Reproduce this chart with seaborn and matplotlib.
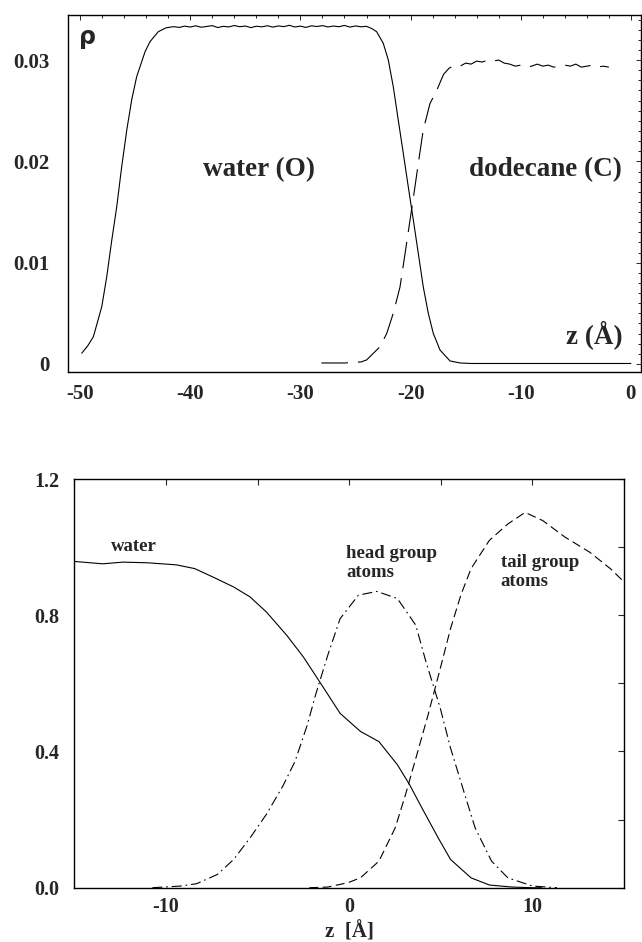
import matplotlib
matplotlib.use("Agg")
import matplotlib.pyplot as plt
import numpy as np
import seaborn as sns
from matplotlib.ticker import MultipleLocator, FixedLocator, FixedFormatter

# ---- top panel: density profiles (water O / dodecane C) ----
water_z = [-49.85, -49.3, -48.79, -48.03, -47.58, -47.12, -46.67, -46.22, -45.76,
           -45.31, -44.86, -44.1, -43.65, -42.9, -42.2,
           -41.5, -41.0, -40.5, -40.0, -39.5, -39.0, -38.5, -38.0, -37.5, -37.0,
           -36.5, -36.0, -35.5, -35.0, -34.5, -34.0, -33.5, -33.0, -32.5, -32.0,
           -31.5, -31.0, -30.5, -30.0, -29.5, -29.0, -28.5, -28.0, -27.5, -27.0,
           -26.5, -26.0, -25.5, -25.0, -24.5, -24.0,
           -23.5, -23.08, -22.48, -22.02, -21.57, -21.12, -20.66, -20.21, -19.75,
           -19.3, -18.85, -18.39, -17.94, -17.33, -16.42, -15.5, -14.5, 0.0]
water_rho = [0.00106, 0.0018, 0.0027, 0.00566, 0.0086, 0.01224, 0.01553, 0.01948, 0.0231,
             0.0261, 0.02836, 0.03083, 0.03182, 0.0328, 0.03318,
             0.03330, 0.03322, 0.03335, 0.03326, 0.03338, 0.03324, 0.03332, 0.03340, 0.03321, 0.03333,
             0.03327, 0.03341, 0.03329, 0.03336, 0.03320, 0.03334, 0.03328, 0.03339, 0.03325, 0.03337,
             0.03330, 0.03343, 0.03326, 0.03335, 0.03322, 0.03338, 0.03331, 0.03340, 0.03327, 0.03336,
             0.03329, 0.03342, 0.03325, 0.03337, 0.03328, 0.03333,
             0.0331, 0.0328, 0.03166, 0.0300, 0.02737, 0.02409, 0.0208, 0.0175, 0.01422,
             0.01093, 0.00763, 0.005, 0.00303, 0.00138, 0.0003, 0.0001, 0.00005, 0.00005]

dodec_z = [-28.1, -26.0, -24.5, -23.99, -22.78, -22.17, -21.57, -20.96, -20.5, -20.05,
           -19.6, -19.3, -18.85, -18.24, -17.63, -17.0,
           -16.5, -16.0, -15.5, -15.0, -14.5, -14.0, -13.5, -13.0, -12.5, -12.0,
           -11.5, -11.0, -10.5, -10.0, -9.5, -9.0, -8.5, -8.0, -7.5, -7.0,
           -6.5, -6.0, -5.5, -5.0, -4.5, -4.0, -3.5, -3.0, -2.5, -2.0]
dodec_rho = [0.0001, 0.0001, 0.0002, 0.0004, 0.0017, 0.003, 0.005, 0.0076, 0.0109, 0.0142,
             0.0175, 0.0198, 0.0231, 0.0257, 0.0270, 0.0286,
             0.0292, 0.0295, 0.0294, 0.0297, 0.0296, 0.0299, 0.0298, 0.0300, 0.0299, 0.0300,
             0.0297, 0.0296, 0.0294, 0.0295, 0.0293, 0.0294, 0.0296, 0.0294, 0.0295, 0.0293,
             0.0294, 0.0295, 0.0294, 0.0296, 0.0293, 0.0294, 0.0295, 0.0293, 0.0294, 0.0293]

top_xticks = [-50, -40, -30, -20, -10, 0]
top_yticks = [0, 0.01, 0.02, 0.03]
top_ylabels = ["0", "0.01", "0.02", "0.03"]

# ---- bottom panel: normalised profiles across the interface ----
wat_z = [-15.0, -13.46, -12.35, -11.0, -9.44, -8.44, -7.43, -6.31, -5.42, -4.53, -3.41,
         -2.51, -1.62, -0.5, 0.61, 1.62, 2.63, 3.3, 3.97, 4.86, 5.53, 6.65, 7.65, 8.88,
         10.0, 10.5]
wat_val = [0.958, 0.951, 0.956, 0.954, 0.948, 0.937, 0.912, 0.883, 0.854, 0.81, 0.741,
           0.678, 0.605, 0.512, 0.459, 0.429, 0.361, 0.302, 0.234, 0.146, 0.083, 0.029,
           0.008, 0.002, 0.0, 0.0]

head_z = [-10.75, -9.2, -8.32, -7.2, -6.31, -5.42, -4.53, -3.63, -2.96, -2.29, -1.84, -1.17,
          -0.5, 0.5, 1.51, 2.63, 3.63, 4.19, 4.97, 5.53, 6.31, 6.87, 7.77, 8.66, 10.0, 11.34]
head_val = [0.0, 0.005, 0.012, 0.039, 0.083, 0.146, 0.215, 0.298, 0.371, 0.478, 0.566, 0.683,
            0.79, 0.859, 0.87, 0.849, 0.771, 0.663, 0.527, 0.41, 0.273, 0.176, 0.078, 0.029,
            0.005, 0.0]

tail_z = [-2.18, -1.17, -0.06, 0.61, 1.62, 2.51, 3.07, 3.74, 4.3, 4.97, 5.53, 6.09, 6.65,
          7.65, 8.66, 9.6, 10.56, 11.79, 13.13, 14.25, 15.0]
tail_val = [0.0, 0.002, 0.015, 0.029, 0.078, 0.176, 0.273, 0.40, 0.507, 0.644, 0.761, 0.859,
            0.937, 1.02, 1.068, 1.102, 1.078, 1.029, 0.985, 0.937, 0.898]

bot_xticks = [-15, -10, -5, 0, 5, 10, 15]
bot_xlabels = ["", "-10", "", "0", "", "10", ""]
bot_yticks = [0.0, 0.2, 0.4, 0.6, 0.8, 1.0, 1.2]
bot_ylabels = ["0.0", "", "0.4", "", "0.8", "", "1.2"]

sns.set_style("white")
plt.rcParams["font.family"] = ["Liberation Serif", "DejaVu Serif"]
plt.rcParams["font.weight"] = "bold"
plt.rcParams["axes.unicode_minus"] = False

fig = plt.figure(figsize=(6.42, 9.42), dpi=100)
ax1 = fig.add_axes([0.1055, 0.6051, 0.893, 0.379])
ax2 = fig.add_axes([0.116, 0.0576, 0.856, 0.4339])

# top
sns.lineplot(x=water_z, y=water_rho, ax=ax1, color="black", linewidth=0.8, errorbar=None)
sns.lineplot(x=dodec_z, y=dodec_rho, ax=ax1, color="black", linewidth=0.8, errorbar=None,
             linestyle=(0, (24, 9)))
ax1.set_xlim(-51.12, 0.92)
ax1.set_ylim(-0.00079, 0.03445)
ax1.set_xticks(top_xticks)
ax1.set_yticks(top_yticks)
ax1.set_yticklabels(top_ylabels)
ax1.xaxis.set_minor_locator(MultipleLocator(2))
ax1.yaxis.set_minor_locator(MultipleLocator(0.001))
ax1.tick_params(which="both", direction="in", top=True, right=True, width=0.7,
                labelsize=15)
ax1.tick_params(which="major", length=3.5)
ax1.tick_params(which="minor", length=2.5)
ax1.tick_params(axis="y", pad=13)
ax1.tick_params(axis="x", pad=9)
ax1.text(-33.8, 0.0192, "water (O)", fontsize=19.5, fontweight="bold", ha="center", va="center")
ax1.text(-7.8, 0.0192, "dodecane (C)", fontsize=19.5, fontweight="bold", ha="center", va="center")
ax1.text(-3.36, 0.00286, "z (Å)", fontsize=19.5, fontweight="bold", ha="center", va="center")
ax1.text(-49.3, 0.0323, "ρ", fontsize=17, fontweight="bold", family="DejaVu Sans",
         ha="center", va="center")

# bottom
sns.lineplot(x=wat_z, y=wat_val, ax=ax2, color="black", linewidth=0.8, errorbar=None)
sns.lineplot(x=head_z, y=head_val, ax=ax2, color="black", linewidth=0.8, errorbar=None,
             linestyle=(0, (9, 3.5, 1.5, 3.5)))
sns.lineplot(x=tail_z, y=tail_val, ax=ax2, color="black", linewidth=0.8, errorbar=None,
             linestyle=(0, (8, 4)))
ax2.set_xlim(-15, 15)
ax2.set_ylim(0, 1.2)
ax2.xaxis.set_major_locator(FixedLocator(bot_xticks))
ax2.xaxis.set_major_formatter(FixedFormatter(bot_xlabels))
ax2.yaxis.set_major_locator(FixedLocator(bot_yticks))
ax2.yaxis.set_major_formatter(FixedFormatter(bot_ylabels))
ax2.tick_params(which="both", direction="in", top=True, right=True, width=0.8,
                length=4.5, labelsize=14.5)
ax2.tick_params(axis="y", pad=11)
ax2.tick_params(axis="x", pad=7)
ax2.set_xlabel("z  [Å]", fontsize=15, fontweight="bold", labelpad=3)
ax2.text(-11.78, 1.003, "water", fontsize=13.5, fontweight="bold", ha="center", va="center")
ax2.text(-0.17, 1.005, "head group\natoms", fontsize=13.5, fontweight="bold", ha="left",
         va="top", linespacing=1.15)
ax2.text(8.26, 0.98, "tail group\natoms", fontsize=13.5, fontweight="bold", ha="left",
         va="top", linespacing=1.15)

for ax in (ax1, ax2):
    for sp in ax.spines.values():
        sp.set_color("black")
        sp.set_linewidth(1.0)
        sp.set_visible(True)

fig.savefig("out.png", dpi=100)
